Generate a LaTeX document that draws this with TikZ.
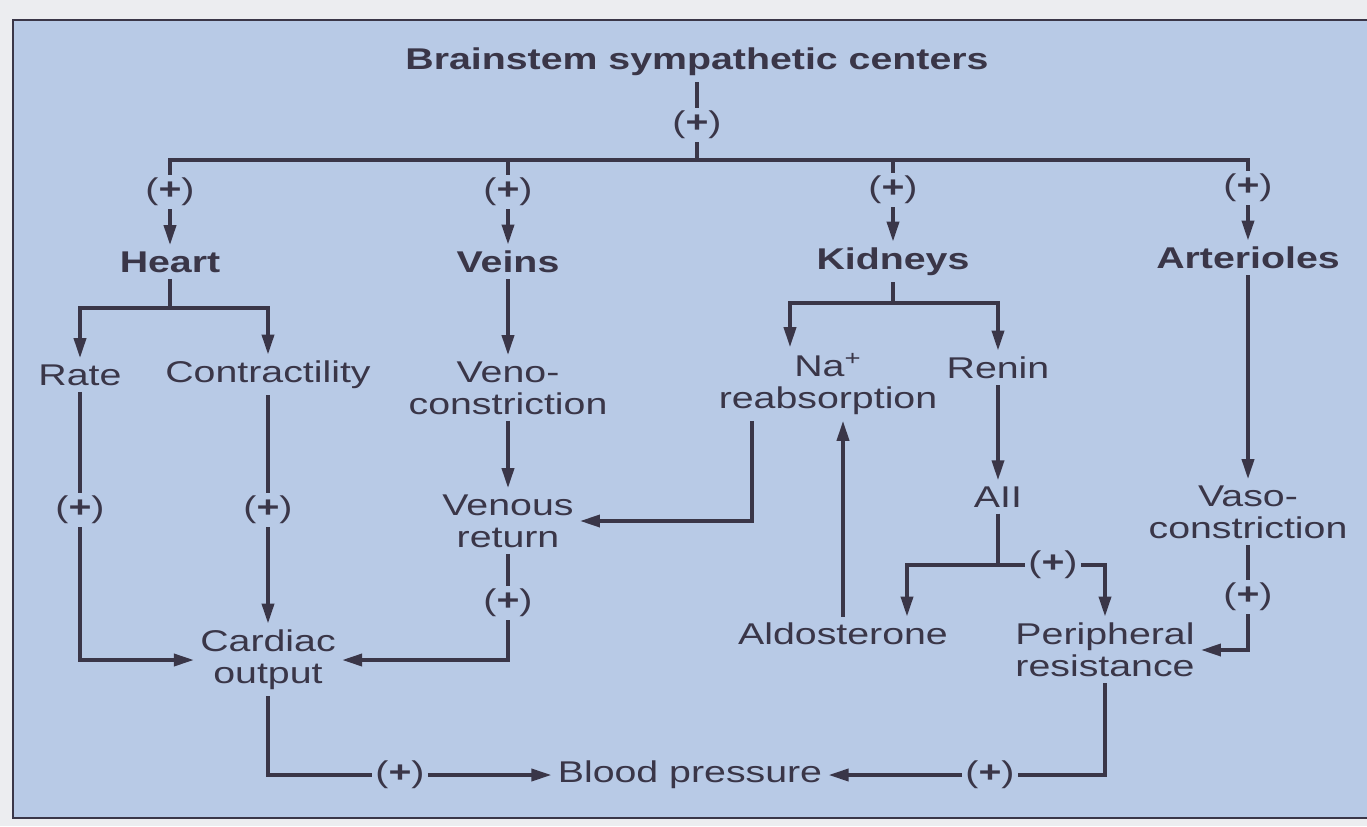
\documentclass[tikz,border=0pt]{standalone}
\usepackage{fontspec}
\setmainfont{Liberation Sans}[FakeStretch=1.31]
\usetikzlibrary{arrows.meta}
\definecolor{dInk}{RGB}{58,54,72}
\definecolor{dFill}{RGB}{184,202,230}
\definecolor{dPaper}{RGB}{236,237,240}
\tikzset{
  lbl/.style={text=dInk, align=center, inner sep=3pt,
              font=\fontsize{15}{16}\selectfont},
  hdr/.style={lbl, font=\fontsize{15}{16}\selectfont\bfseries},
  plus/.style={lbl, inner sep=1.5pt},
  link/.style={draw=dInk, line width=1.8pt},
  flow/.style={link, -{Triangle[length=10pt,width=6pt]}},
}
\newcommand{\Plus}{(\textbf{+})}

\begin{document}
\begin{tikzpicture}[x=0.5pt,y=-0.5pt]
  \useasboundingbox (0,0) rectangle (1367,826);
  \fill[dPaper] (0,0) rectangle (1367,826);
  \filldraw[fill=dFill, draw=dInk, line width=1.2pt] (13,20) rectangle (1390,818);

  % top level
  \node[hdr] (top) at (697,62) {Brainstem sympathetic centers};
  \node[plus] (p0) at (697,125) {\Plus};
  \coordinate (bus) at (697,160);
  \node[plus] (pH) at (170,192) {\Plus};
  \node[plus] (pV) at (508,192) {\Plus};
  \node[plus] (pK) at (893,190) {\Plus};
  \node[plus] (pA) at (1248,188) {\Plus};
  \node[hdr] (heart) at (170,262) {Heart};
  \node[hdr] (veins) at (508,262) {Veins};
  \node[hdr] (kidneys) at (893,262) {Kidneys};
  \node[hdr] (arter) at (1248,258) {Arterioles};

  % heart and veins
  \coordinate (hSplit) at (170,308);
  \node[lbl] (rate) at (80,375) {Rate};
  \node[lbl] (contr) at (268,375) {Contractility};
  \node[plus] (pR) at (80,510) {\Plus};
  \node[plus] (pC) at (268,510) {\Plus};
  \node[lbl] (cardiac) at (268,660) {Cardiac\\output};
  \node[lbl] (veno) at (508,388) {Veno-\\constriction};
  \node[lbl] (venous) at (508,521) {Venous\\return};
  \node[plus] (pVR) at (508,603) {\Plus};

  % kidneys and arterioles
  \coordinate (kSplit) at (893,303);
  \node[lbl] (na) at (828,384) {Na\textsuperscript{+}\\reabsorption};
  \node[lbl] (renin) at (998,368) {Renin};
  \node[lbl] (aii) at (998,497) {AII};
  \coordinate (aSplit) at (998,565);
  \node[plus] (pAII) at (1053,565) {\Plus};
  \node[lbl] (aldo) at (843,634) {Aldosterone};
  \node[lbl] (periph) at (1105,650) {Peripheral\\resistance};
  \node[lbl] (vaso) at (1248,512) {Vaso-\\constriction};
  \node[plus] (pVC) at (1248,597) {\Plus};

  % bottom
  \node[lbl] (bp) at (690,775) {Blood pressure};
  \node[plus] (pCB) at (400,775) {\Plus};
  \node[plus] (pPB) at (990,775) {\Plus};

  \draw[link] (top) -- (p0);
  \draw[link] (p0) -- (bus);
  \draw[link] (pH) |- (bus) -| (pA);
  \draw[link] (pV) -- (pV |- bus);
  \draw[link] (pK) -- (pK |- bus);
  \draw[flow] (pH) -- (heart);
  \draw[flow] (pV) -- (veins);
  \draw[flow] (pK) -- (kidneys);
  \draw[flow] (pA) -- (arter);

  \draw[link] (heart) -- (hSplit);
  \draw[flow] (hSplit) -| (rate);
  \draw[flow] (hSplit) -| (contr);
  \draw[link] (rate) -- (pR);
  \draw[flow] (pR) |- (cardiac);
  \draw[link] (contr) -- (pC);
  \draw[flow] (pC) -- (cardiac);
  \draw[flow] (veins) -- (veno);
  \draw[flow] (veno) -- (venous);
  \draw[link] (venous) -- (pVR);
  \draw[flow] (pVR) |- (cardiac);

  \draw[link] (kidneys) -- (kSplit);
  \draw[flow] (kSplit) -| ([xshift=-19pt]na.north);
  \draw[flow] (kSplit) -| (renin);
  \draw[flow] ([xshift=-38pt]na.south) |- (venous);
  \draw[flow] (renin) -- (aii);
  \draw[link] (aii) -- (aSplit);
  \draw[flow] (aSplit) -| ([xshift=32pt]aldo.north);
  \draw[link] (aSplit) -- (pAII);
  \draw[flow] (pAII) -| (periph);
  \draw[flow] (aldo) -- (aldo |- na.south);
  \draw[flow] (arter) -- (vaso);
  \draw[link] (vaso) -- (pVC);
  \draw[flow] (pVC) |- (periph);

  \draw[link] (cardiac) |- (pCB);
  \draw[flow] (pCB) -- (bp);
  \draw[link] (periph) |- (pPB);
  \draw[flow] (pPB) -- (bp);
\end{tikzpicture}
\end{document}
